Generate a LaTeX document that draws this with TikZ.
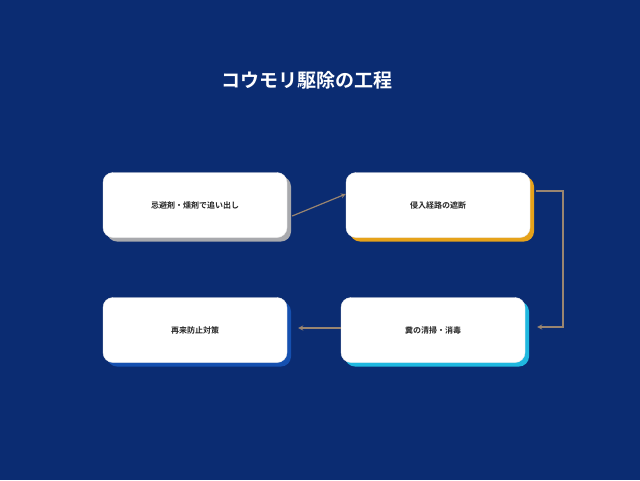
\documentclass[tikz,border=0pt]{standalone}
\usepackage{fontspec}
\newfontfamily\jp{Noto Sans CJK JP Bold}
\definecolor{bgblue}{HTML}{0B2C72}
\definecolor{arrowc}{HTML}{9A8570}
\definecolor{shgray}{HTML}{A8A9AD}
\definecolor{shorange}{HTML}{E6A21A}
\definecolor{shcyan}{HTML}{1FB8E0}
\definecolor{shblue}{HTML}{1550B0}
\tikzset{
  stepbox/.style={draw=white!85!gray,fill=white,rounded corners=10pt,minimum width=184pt,minimum height=65pt,font=\jp\fontsize{8}{10}\selectfont,text=black!85},
  shadowbox/.style={fill=#1,rounded corners=10pt,minimum width=184pt,minimum height=65pt},
  flow/.style={draw=arrowc,line width=1.2pt,-stealth}
}
\begin{document}
\begin{tikzpicture}[x=1pt,y=-1pt]
  \fill[bgblue] (0,0) rectangle (640,480);
  \useasboundingbox (0,0) rectangle (640,480);
  \node[font=\jp\fontsize{19}{22}\selectfont,text=white] (title) at (307,80) {コウモリ駆除の工程};

  % shadows
  \node[shadowbox=shgray] at (199,209) {};
  \node[shadowbox=shorange] at (442,209) {};
  \node[shadowbox=shcyan] at (437,334) {};
  \node[shadowbox=shblue] at (199,334) {};

  % steps
  \node[stepbox] (s1) at (195,205) {忌避剤・燻剤で追い出し};
  \node[stepbox] (s2) at (438,205) {侵入経路の遮断};
  \node[stepbox] (s3) at (433,330) {糞の清掃・消毒};
  \node[stepbox] (s4) at (195,330) {再来防止対策};

  \coordinate (c1) at (563,219);
  \draw[flow] (s1.east) ++(5,11) -- ([yshift=11pt]s2.west);
  \draw[flow] ([xshift=6pt,yshift=14pt]s2.east) -| (c1) |- ([xshift=12pt,yshift=3pt]s3.east);
  \draw[flow] ([yshift=2pt]s3.west) -- ([xshift=11pt,yshift=2pt]s4.east);
\end{tikzpicture}
\end{document}
